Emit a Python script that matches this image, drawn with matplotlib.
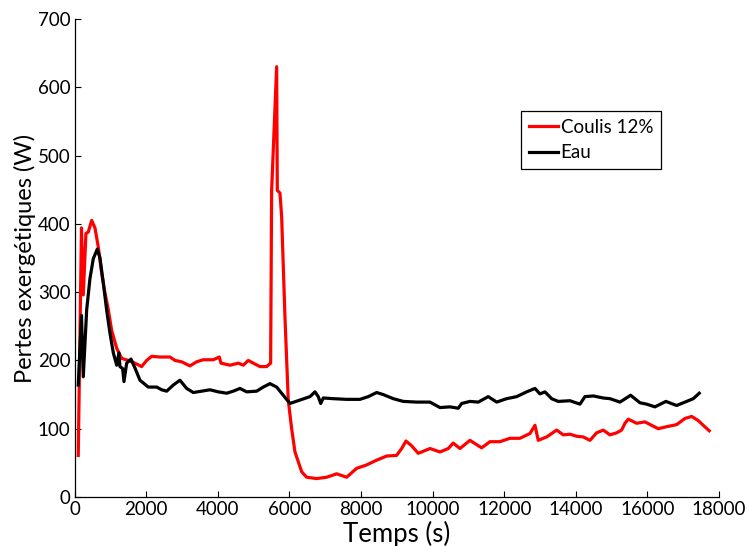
import matplotlib
matplotlib.use("Agg")
import matplotlib.pyplot as plt

plt.rcParams['font.family'] = ['Lato', 'DejaVu Sans']

# Coulis 12% (red)
t_coulis = [100, 190, 240, 315, 380, 475, 567, 660, 754, 846, 940, 1033, 1173, 1313, 1500,
            1684, 1870, 2011, 2150, 2383, 2662, 2802, 2988, 3220, 3408, 3592, 3872, 4040, 4087,
            4338, 4570, 4710, 4850, 4989, 5176, 5362, 5474, 5502, 5642, 5660, 5735, 5782, 5874,
            5966, 6061, 6154, 6341, 6480, 6760, 7039, 7318, 7597, 7877, 8156, 8436, 8715, 8994,
            9134, 9254, 9413, 9598, 9925, 10204, 10436, 10575, 10762, 11042, 11368, 11600,
            11879, 12159, 12438, 12718, 12858, 12950, 13184, 13464, 13650, 13835, 14022, 14207,
            14394, 14581, 14765, 14953, 15140, 15279, 15372, 15465, 15698, 15930, 16117, 16302,
            16536, 16815, 17047, 17235, 17419, 17559, 17726]
v_coulis = [61, 394, 296, 386, 388, 405, 394, 366, 328, 299, 274, 244, 218, 203, 200,
            196, 191, 200, 206, 205, 205, 200, 198, 192, 198, 201, 201, 205, 196,
            193, 196, 193, 200, 196, 191, 191, 196, 449, 630, 449, 445, 410, 264,
            142, 100, 66, 37, 29, 27, 29, 34, 29, 42, 47, 54, 60, 61,
            71, 82, 75, 64, 71, 66, 71, 79, 71, 83, 72, 81,
            81, 86, 86, 93, 105, 83, 88, 98, 91, 92, 89, 88,
            83, 94, 98, 91, 94, 98, 108, 114, 108, 110, 105, 100,
            103, 106, 115, 118, 112, 105, 97]

# Eau (black)
t_eau = [100, 190, 240, 335, 427, 520, 632, 707, 800, 893, 986, 1080, 1173, 1237, 1265, 1340,
         1377, 1452, 1573, 1684, 1824, 2056, 2290, 2430, 2570, 2755, 2941, 3128, 3313, 3547,
         3779, 4011, 4246, 4430, 4617, 4804, 5084, 5268, 5455, 5642, 5827, 6014, 6293, 6573,
         6712, 6805, 6872, 6945, 7224, 7597, 7969, 8201, 8436, 8620, 8900, 9179, 9553, 9925,
         10204, 10483, 10716, 10810, 11042, 11274, 11553, 11788, 12067, 12346, 12626, 12858,
         12997, 13137, 13323, 13508, 13835, 14115, 14254, 14486, 14765, 14953, 15232, 15530,
         15791, 15977, 16209, 16516, 16815, 17095, 17280, 17447]
v_eau = [164, 266, 176, 274, 320, 349, 363, 350, 313, 274, 240, 211, 193, 211, 191, 188,
         169, 196, 202, 189, 171, 161, 161, 157, 155, 164, 171, 159, 153, 155,
         157, 154, 152, 155, 159, 154, 155, 161, 166, 161, 149, 137, 142, 147,
         154, 147, 137, 145, 144, 143, 143, 147, 153, 150, 144, 140, 139, 139,
         131, 132, 130, 137, 140, 139, 147, 139, 144, 147, 154, 159,
         151, 154, 144, 140, 141, 136, 147, 148, 145, 144, 139, 149,
         138, 136, 132, 140, 134, 140, 144, 152]

xticks = [0, 2000, 4000, 6000, 8000, 10000, 12000, 14000, 16000, 18000]
yticks = [0, 100, 200, 300, 400, 500, 600, 700]

fig = plt.figure(figsize=(7.49, 5.46), dpi=100)
ax = fig.add_axes([0.0997, 0.0897, 0.8603, 0.8756])

ax.plot(t_coulis, v_coulis, color='#ff0000', lw=2.3, label='Coulis 12%')
ax.plot(t_eau, v_eau, color='black', lw=2.3, label='Eau')

ax.set_xlim(0, 18000)
ax.set_ylim(0, 700)
ax.set_xticks(xticks)
ax.set_yticks(yticks)
ax.tick_params(direction='in', length=4, width=0.8, labelsize=13.5)
ax.tick_params(axis='x', pad=3)
ax.tick_params(axis='y', pad=3)
for s in ['top', 'right']:
    ax.spines[s].set_visible(False)
for s in ['left', 'bottom']:
    ax.spines[s].set_linewidth(0.9)

ax.set_xlabel('Temps (s)', fontsize=18.5, labelpad=2)
ax.set_ylabel('Pertes exergétiques (W)', fontsize=17, labelpad=1)

leg = ax.legend(loc='upper left', bbox_to_anchor=(0.693, 0.807), fontsize=13.5,
                frameon=True, fancybox=False, edgecolor='black', framealpha=1,
                handlelength=1.55, handletextpad=0.15, borderpad=0.4, labelspacing=0.45,
                borderaxespad=0)
leg.get_frame().set_linewidth(0.9)
for ln in leg.get_lines():
    ln.set_linewidth(2.3)

fig.savefig('out.png', dpi=100)
